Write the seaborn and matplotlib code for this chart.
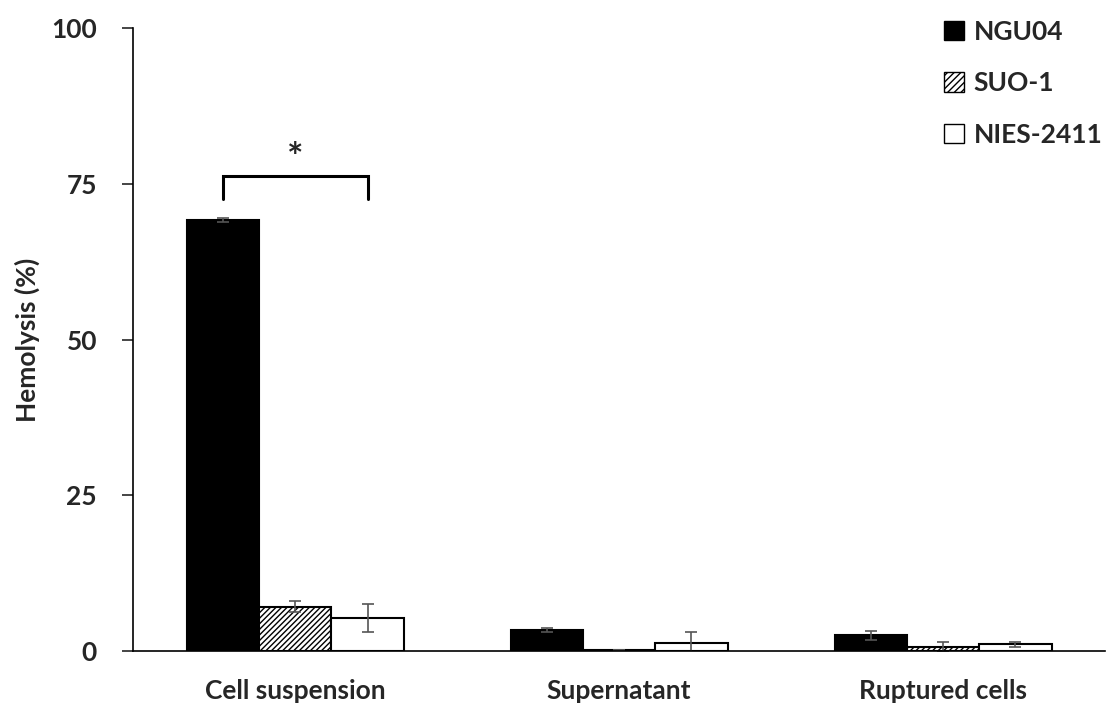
import pandas as pd
import numpy as np
import seaborn as sns
import matplotlib.pyplot as plt
from matplotlib.patches import Patch

# values
samples = ["Cell suspension", "Supernatant", "Ruptured cells"]
strains = ["NGU04", "SUO-1", "NIES-2411"]
ngu04 = [69.2, 3.4, 2.5]
suo1 = [7.1, 0.2, 0.7]
nies2411 = [5.3, 1.3, 1.1]
ngu04_err = [0.3, 0.3, 0.7]
suo1_err = [0.9, 0.0, 0.8]
nies2411_err = [2.2, 1.8, 0.4]

df = pd.DataFrame({
    "sample": samples * 3,
    "strain": [s for s in strains for _ in samples],
    "value": ngu04 + suo1 + nies2411,
})
errors = [ngu04_err, suo1_err, nies2411_err]

sns.set_style("white")
plt.rcParams["font.family"] = ["Lato", "DejaVu Sans"]
plt.rcParams["hatch.linewidth"] = 1.0

fig = plt.figure(figsize=(11.1, 7.11), dpi=100)
ax = fig.add_axes([0.12, 0.0844, 0.8755, 0.8762])

palette = {"NGU04": "black", "SUO-1": "white", "NIES-2411": "white"}
sns.barplot(data=df, x="sample", y="value", hue="strain", order=samples,
            hue_order=strains, palette=palette, edgecolor="black",
            linewidth=1.5, width=0.67, errorbar=None, legend=False, ax=ax)

hatches = ["", "//////", ""]
for cont, hatch, err in zip(ax.containers, hatches, errors):
    xs = []
    ys = []
    for bar in cont:
        bar.set_hatch(hatch)
        xs.append(bar.get_x() + bar.get_width() / 2)
        ys.append(bar.get_height())
    ax.errorbar(xs, ys, yerr=err, fmt="none", ecolor="#555555",
                elinewidth=1.2, capsize=4.5, capthick=1.2)

# significance bracket between NGU04 and NIES-2411 in cell suspension
b1 = ax.containers[0][0]
b3 = ax.containers[2][0]
x1 = b1.get_x() + b1.get_width() / 2
x3 = b3.get_x() + b3.get_width() / 2
ax.plot([x1, x1, x3, x3], [72.5, 76.2, 76.2, 72.5], color="black", lw=2.2,
        solid_joinstyle="miter")
ax.text((x1 + x3) / 2, 76.3, "*", ha="center", va="bottom", fontsize=28,
        fontweight="bold")

ax.set_ylim(0, 100)
ax.set_xlim(-0.5, 2.5)
ax.set_yticks([0, 25, 50, 75, 100])
ax.set_xticks([0, 1, 2])
ax.set_xticklabels(samples)
ax.set_xticks([0.5, 1.5, 2.5], minor=True)
ax.tick_params(axis="x", which="major", length=0, pad=20, labelsize=19)
ax.tick_params(axis="x", which="minor", length=8, width=1.2, direction="out")
ax.tick_params(axis="y", length=8, width=1.2, direction="out", pad=18,
               labelsize=19, left=True)
for lab in ax.get_xticklabels() + ax.get_yticklabels():
    lab.set_fontweight("bold")

ax.set_xlabel("")
ax.set_ylabel("Hemolysis (%)", fontsize=19, fontweight="bold", labelpad=8)

sns.despine(ax=ax)
for side in ["left", "bottom"]:
    ax.spines[side].set_linewidth(1.2)
    ax.spines[side].set_color("black")

handles = [Patch(facecolor="black", edgecolor="black"),
           Patch(facecolor="white", edgecolor="black", hatch="/////"),
           Patch(facecolor="white", edgecolor="black")]
ax.legend(handles, strains, loc="upper right", bbox_to_anchor=(1.008, 1.03),
          frameon=False, handlelength=0.75, handleheight=0.75,
          handletextpad=0.35, labelspacing=1.04, borderaxespad=0,
          prop={"weight": "bold", "size": 19})

fig.savefig("out.png", dpi=100)
